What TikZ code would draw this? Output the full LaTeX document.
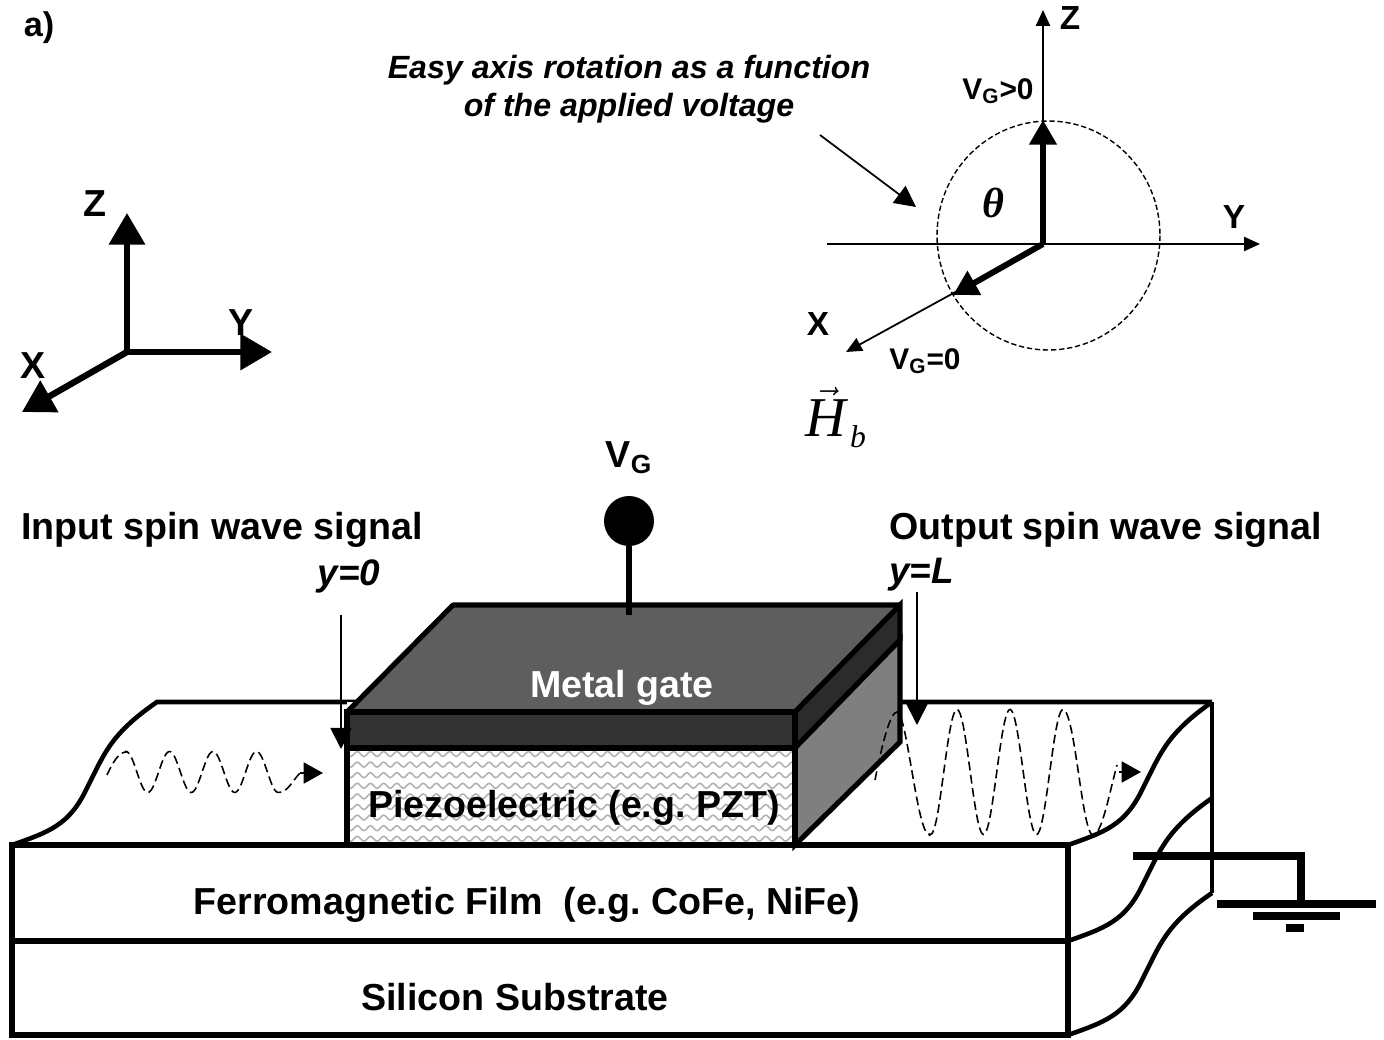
\documentclass[tikz,border=0pt]{standalone}
\usepackage{fontspec}
\setmainfont{Liberation Sans}
\newfontfamily\timesfont{Liberation Serif}
\usetikzlibrary{arrows.meta,decorations.pathmorphing}
\definecolor{topgrey}{HTML}{5E5E5E}
\definecolor{frontgrey}{HTML}{333333}
\definecolor{edgegrey}{HTML}{2B2B2B}
\definecolor{sidegrey}{HTML}{7F7F7F}
\tikzset{
  layer/.style={line width=2.9pt, line join=miter},
  film/.style={line width=2.6pt},
  lbl/.style={font=\fontsize{21.4}{25}\selectfont\bfseries, inner sep=0pt},
  note/.style={font=\fontsize{18.3}{21.5}\selectfont\bfseries\itshape, inner sep=0pt, align=center},
  axlbl/.style={font=\fontsize{19}{21}\selectfont\bfseries, inner sep=0pt},
  thinax/.style={line width=1pt, -{Triangle[length=9pt,width=8pt]}},
  thickax/.style={line width=3.6pt, -{Triangle[length=18pt,width=20pt]}},
  rotarrow/.style={line width=3.4pt, -{Triangle[length=14pt,width=15pt]}},
  pointer/.style={line width=1pt, -{Triangle[length=12pt,width=12pt]}},
  downarrow/.style={line width=1pt, -{Triangle[length=12pt,width=12pt]}},
  wave/.style={line width=0.9pt, dash pattern=on 5pt off 2.6pt},
  wavetip/.style={line width=0.9pt, -{Triangle[length=11pt,width=12pt]}}
}
\begin{document}
\begin{tikzpicture}[x=0.02cm, y=-0.02cm]
\useasboundingbox (0,0) rectangle (1384,1040);
\node[lbl, font=\fontsize{19.5}{22}\selectfont\bfseries] (panel) at (39,28) {a)};
% left axes
\coordinate (o1) at (127,352);
\coordinate (z1) at (127,213);
\coordinate (y1) at (272,352);
\coordinate (x1) at (22,412);
\draw[thickax] (o1) -- (z1);
\draw[thickax] (o1) -- (y1);
\draw[thickax] (o1) -- (x1);
\node[lbl] (zl1) at (95,204) {Z};
\node[lbl] (yl1) at (241,323) {Y};
\node[lbl] (xl1) at (33,366) {X};
% easy axis
\node[note] (easy) at (629,89) {Easy axis rotation as a function\\of the applied voltage};
\coordinate (p1) at (820,135);
\coordinate (p2) at (916,207);
\draw[pointer] (p1) -- (p2);
\coordinate (o2) at (1043,244);
\coordinate (z2) at (1043,10);
\coordinate (yb) at (827,244);
\coordinate (y2) at (1260,244);
\coordinate (x2) at (846,352);
\coordinate (vp) at (1043,120);
\coordinate (v0) at (953,295);
\draw[line width=0.8pt, dash pattern=on 3pt off 1.6pt] (1048.5,235.5) ellipse (111.5 and 114.5);
\draw[thinax] (o2) -- (z2);
\draw[thinax] (yb) -- (y2);
\draw[thinax] (o2) -- (x2);
\draw[rotarrow] (o2) -- (vp);
\draw[rotarrow] (o2) -- (v0);
\node[axlbl] (zl2) at (1070,18) {Z};
\node[axlbl] (yl2) at (1234,217) {Y};
\node[axlbl] (xl2) at (818,324) {X};
\node[axlbl, font=\fontsize{17}{19}\selectfont\bfseries] (vgp) at (998,91) {V\textsubscript{G}>0};
\node[axlbl, font=\fontsize{17}{19}\selectfont\bfseries] (vgz) at (925,361) {V\textsubscript{G}=0};
\node[inner sep=0pt, font=\fontsize{24}{26}\selectfont\timesfont\bfseries\itshape] (theta) at (993,203) {θ};
\node[inner sep=0pt, font=\fontsize{32}{36}\selectfont\timesfont\itshape] (hvec) at (826,412) {$\vec{\mbox{H}}$};
\node[inner sep=0pt, font=\fontsize{18}{20}\selectfont\timesfont\itshape] (hsub) at (858,437) {b};
% film and substrate
\draw[film] (1212,702) -- (157,702)
  .. controls (109,735) and (104,755) .. (86,790) .. controls (69,825) and (49,832) .. (12,845);
\draw[film] (1212,702) -- (1212,893);
\draw[film] (1068,845) .. controls (1105,832) and (1125,825) .. (1142,790) .. controls (1160,755) and (1165,735) .. (1212,702);
\draw[film] (1068,941) .. controls (1105,928) and (1125,921) .. (1142,886) .. controls (1160,851) and (1165,831) .. (1212,798);
\draw[film] (1068,1035) .. controls (1105,1022) and (1125,1015) .. (1142,980) .. controls (1160,945) and (1165,925) .. (1212,893);
\draw[layer] (12,845) rectangle (1068,941);
\draw[layer] (12,941) rectangle (1068,1035);
\node[lbl] (ferro) at (527,905) {Ferromagnetic Film\ \ (e.g.\ CoFe, NiFe)};
\node[lbl] (si) at (515,997) {Silicon Substrate};
% gate stack
\fill[white] (347,702) rectangle (795,845);
\begin{scope}
\clip (347,748) rectangle (795,845);
\foreach \row in {0,...,9}
  \draw[black!30, line width=0.9pt, decorate, decoration={snake, segment length=7.5pt, amplitude=1.4pt}]
    (340,754+\row*10.6) -- (800,754+\row*10.6);
\end{scope}
\draw[layer, fill=topgrey, line join=round] (453,605) -- (900,605) -- (795,712) -- (347,712) -- cycle;
\draw[layer, fill=edgegrey] (795,712) -- (900,605) -- (900,640) -- (795,748) -- cycle;
\draw[layer, fill=sidegrey] (795,748) -- (900,640) -- (900,742) -- (795,845) -- cycle;
\draw[layer, fill=frontgrey] (347,712) rectangle (795,748);
\draw[layer] (347,748) rectangle (795,845);
\node[lbl, text=white] (gate) at (622,688) {Metal gate};
\node[lbl] (piezo) at (574,808) {Piezoelectric (e.g.\ PZT)};
% terminal
\node[circle, fill=black, minimum size=1.0cm, inner sep=0pt] (term) at (629,521) {};
\coordinate (tb) at (629,615);
\draw[line width=3.8pt] (term) -- (tb);
\node[lbl] (vg) at (629,458) {V\textsubscript{G}};
% signals
\node[lbl, anchor=west] (inp) at (21,530) {Input spin wave signal};
\node[lbl, anchor=west] (outp) at (889,530) {Output spin wave signal};
\node[note, font=\fontsize{21}{24}\selectfont\bfseries\itshape] (y0) at (349,576) {y=0};
\node[note, font=\fontsize{21}{24}\selectfont\bfseries\itshape, anchor=west] (yL) at (889,575) {y=L};
\coordinate (a1) at (341,615);
\coordinate (b1) at (341,749);
\coordinate (a2) at (917,592);
\coordinate (b2) at (917,725);
\draw[downarrow] (a1) -- (b1);
\draw[downarrow] (a2) -- (b2);
% spin waves
\coordinate (w1) at (300,773);
\coordinate (w1t) at (323,773);
\draw[wave] (107,775) .. controls (113,762) and (119,752) .. (126,752)
  -- plot[domain=126:279, samples=100] (\x,{772-20.5*cos((\x-126)/43.5*360)})
  .. controls (287,793) and (293,780) .. (w1);
\draw[wavetip] (w1) -- (w1t);
\coordinate (w2) at (1117,765);
\coordinate (w2s) at (1119,772);
\coordinate (w2t) at (1141,772);
\draw[wave] (875,780) .. controls (882,745) and (890,712) .. (897,712)
  .. controls (907,712) and (917,835) .. (929.5,835)
  -- plot[domain=929.5:1063, samples=120] (\x,{772-62.5*cos((\x-957)/53*360)})
  .. controls (1075,710) and (1082,835) .. (1093,835) .. controls (1102,835) and (1110,790) .. (w2);
\draw[wavetip] (w2s) -- (w2t);
% ground
\coordinate (g1) at (1133,856);
\coordinate (g2) at (1301,856);
\coordinate (g3) at (1301,904);
\draw[line width=4pt, line join=miter] (g1) -- (g2) -- (g3);
\draw[line width=4.5pt] (1217,904) -- (1376,904);
\draw[line width=4.5pt] (1253,916) -- (1340,916);
\draw[line width=4.5pt] (1286,928) -- (1304,928);
\end{tikzpicture}
\end{document}
